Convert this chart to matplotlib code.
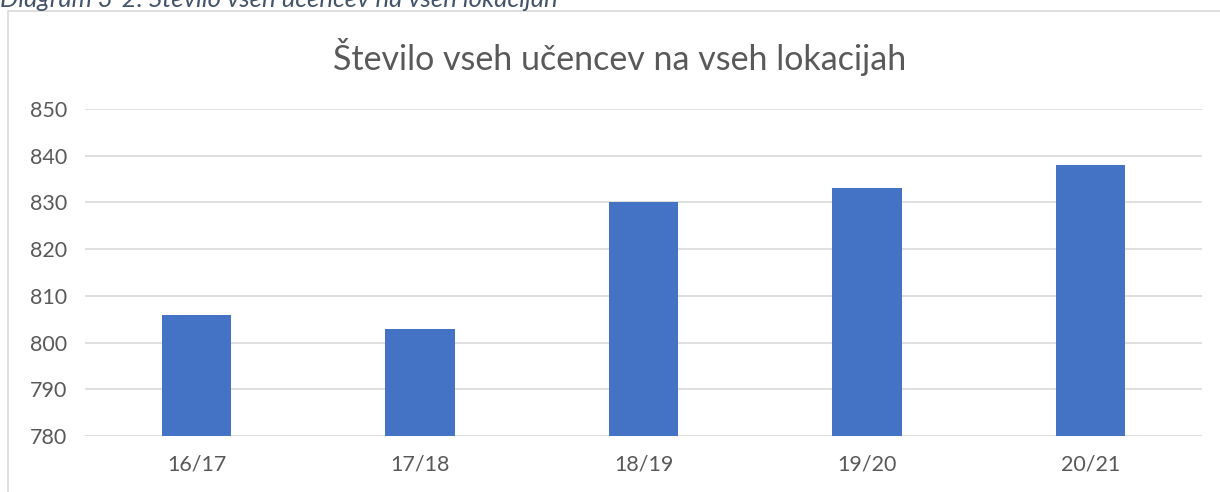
import matplotlib.pyplot as plt
from matplotlib.patches import Rectangle

# podatki
leta = ["16/17", "17/18", "18/19", "19/20", "20/21"]
ucenci = [806, 803, 830, 833, 838]
y_ticks = [780, 790, 800, 810, 820, 830, 840, 850]

plt.rcParams['font.family'] = ['Lato', 'DejaVu Sans']

fig = plt.figure(figsize=(12.2, 4.92), dpi=100)

# okvir grafa (odrezan desno in spodaj)
fig.patches.append(Rectangle((8 / 1220, -0.1), 1.2, 1.1 - 11 / 492,
                             transform=fig.transFigure, fill=False,
                             edgecolor='#D9D9D9', linewidth=1.2))

# napis nad grafom, zgoraj odrezan kot v izvirniku
fig.text(0.0, 1 - 7 / 492, "Diagram 3-2: Število vseh učencev na vseh lokacijah",
         fontsize=18.5, style='italic', color='#44546A', va='baseline', ha='left')

ax = fig.add_axes([85 / 1220, 1 - 436 / 492, (1202 - 85) / 1220, (436 - 109) / 492])
x = range(len(leta))
ax.bar(x, ucenci, width=0.31, color='#4472C4', zorder=3)
ax.set_xlim(-0.5, len(leta) - 0.5)
ax.set_ylim(780, 850)
ax.set_yticks(y_ticks)
ax.set_xticks(list(x))
ax.set_xticklabels(leta)
ax.grid(axis='y', color='#D9D9D9', linewidth=1.2, zorder=0)
for s in ax.spines.values():
    s.set_visible(False)
ax.tick_params(axis='both', length=0, labelsize=15.5, colors='#595959')
ax.tick_params(axis='y', pad=13)
ax.tick_params(axis='x', pad=13)

fig.text(0.508, 1 - 57 / 492, "Število vseh učencev na vseh lokacijah",
         fontsize=24.5, color='#595959', ha='center', va='center')

fig.savefig("out.png", dpi=100)
